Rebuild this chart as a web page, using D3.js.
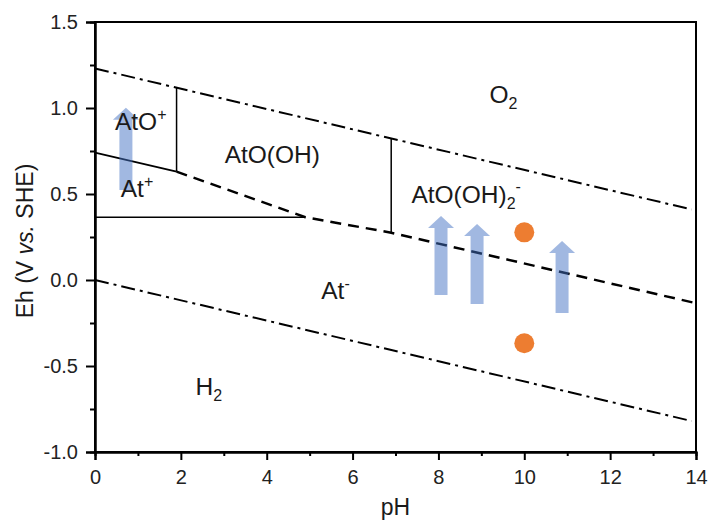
<!DOCTYPE html>
<html>
<head>
<meta charset="utf-8">
<script src="https://cdn.jsdelivr.net/npm/d3@7"></script>
<style>
  html, body { margin: 0; padding: 0; background: #fff; }
  svg { display: block; font-family: "Liberation Sans", Arial, sans-serif; }
</style>
</head>
<body>
<svg id="chart" width="708" height="521"></svg>
<script>
// ---- data ----
const phDomain = [0, 14];
const ehDomain = [-1.0, 1.5];
const phTicks = [0, 2, 4, 6, 8, 10, 12, 14];
const phMinorTicks = [1, 3, 5, 7, 9, 11, 13];
const ehTicks = [-1.0, -0.5, 0.0, 0.5, 1.0, 1.5];
const ehMinorTicks = [-0.75, -0.25, 0.25, 0.75, 1.25];

// water stability lines (dash-dot)
const o2Line = [[0, 1.23], [13.9, 0.41]];
const h2Line = [[0, 0.0], [13.9, -0.82]];
// solid boundaries
const atPlusAtOPlus = [[0, 0.74], [1.9, 0.63]];
const atOPlusAtOOH = [[1.9, 0.63], [1.9, 1.118]];
const atPlusAtMinus = [[0, 0.365], [4.9, 0.365]];
const atOOHAtOOH2 = [[6.9, 0.275], [6.9, 0.823]];
// dashed boundary
const dashedBoundary = [[1.9, 0.63], [4.9, 0.365], [6.9, 0.275], [14, -0.135]];

// arrows (pH, Eh start, Eh end)
const arrowPH = [0.72, 8.06, 8.9, 10.88];
const arrowFrom = [0.523, -0.087, -0.14, -0.192];
const arrowTo = [1.002, 0.372, 0.326, 0.227];

// measured points
const pointPH = [10, 10];
const pointEh = [0.277, -0.368];

// species labels: [main, script, type, pH(left), Eh(baseline)]
const labels = [
  ["O", "2", "sub", 9.19, 1.03],
  ["AtO(OH)", "", "", 3.02, 0.68],
  ["AtO", "+", "sup", 0.465, 0.87],
  ["At", "+", "sup", 0.6, 0.485],
  ["AtO(OH)", "2", "subsup", 7.37, 0.446],
  ["At", "-", "sup", 5.27, -0.11],
  ["H", "2", "sub", 2.34, -0.67]
];

// ---- layout ----
const svg = d3.select("#chart");
const m = { left: 95, top: 22, right: 12, bottom: 69 };
const W = 708 - m.left - m.right;   // 601
const H = 521 - m.top - m.bottom;   // 430

const x = d3.scaleLinear().domain(phDomain).range([0, W]);
const y = d3.scaleLinear().domain(ehDomain).range([H, 0]);

const g = svg.append("g").attr("transform", `translate(${m.left},${m.top})`);

const line = d3.line().x(d => x(d[0])).y(d => y(d[1]));

// boundaries
function drawLine(data, width, dash) {
  g.append("path").datum(data)
    .attr("d", line)
    .attr("fill", "none")
    .attr("stroke", "#000")
    .attr("stroke-width", width)
    .attr("stroke-dasharray", dash || null);
}
drawLine(o2Line, 2, "14,5,3,5");
drawLine(h2Line, 2, "14,5,3,5");
drawLine(atPlusAtOPlus, 1.8);
drawLine(atOPlusAtOOH, 1.5);
drawLine(atPlusAtMinus, 1.5);
drawLine(atOOHAtOOH2, 1.5);
drawLine(dashedBoundary, 2.5, "11,7");

// frame and axes
g.append("rect").attr("x", 0).attr("y", 0).attr("width", W).attr("height", H)
  .attr("fill", "none").attr("stroke", "#000").attr("stroke-width", 2);

const fmtY = d => d3.format(".1f")(d).replace("\u2212", "-");
const xAxis = g.append("g").attr("transform", `translate(0,${H})`)
  .call(d3.axisBottom(x).tickValues(phTicks).tickSize(8).tickPadding(10).tickFormat(d3.format("d")));
const xMinor = g.append("g").attr("transform", `translate(0,${H})`)
  .call(d3.axisBottom(x).tickValues(phMinorTicks).tickSize(4).tickFormat(""));
const yAxis = g.append("g")
  .call(d3.axisLeft(y).tickValues(ehTicks).tickSize(9).tickPadding(8).tickFormat(fmtY));
const yMinor = g.append("g")
  .call(d3.axisLeft(y).tickValues(ehMinorTicks).tickSize(5).tickFormat(""));

[xAxis, xMinor, yAxis, yMinor].forEach(a => {
  a.select(".domain").attr("stroke", "#000").attr("stroke-width", 2);
  a.selectAll(".tick line").attr("stroke", "#000").attr("stroke-width", 2);
  a.selectAll("text").attr("font-family", "Liberation Sans, Arial, sans-serif")
    .attr("font-size", 20).attr("fill", "#222");
});

// arrows
const shaftW = 13, headW = 26, headL = 12;
arrowPH.forEach((p, i) => {
  const cx = x(p), yb = y(arrowFrom[i]), yt = y(arrowTo[i]);
  const path = d3.path();
  path.moveTo(cx - shaftW / 2, yb);
  path.lineTo(cx - shaftW / 2, yt + headL);
  path.lineTo(cx - headW / 2, yt + headL);
  path.lineTo(cx, yt);
  path.lineTo(cx + headW / 2, yt + headL);
  path.lineTo(cx + shaftW / 2, yt + headL);
  path.lineTo(cx + shaftW / 2, yb);
  path.closePath();
  g.append("path").attr("d", path.toString())
    .attr("fill", "rgba(68,114,196,0.5)");
});

// points
g.selectAll("circle.pt").data(pointPH).join("circle")
  .attr("class", "pt")
  .attr("cx", d => x(d))
  .attr("cy", (d, i) => y(pointEh[i]))
  .attr("r", 10)
  .attr("fill", "#ED7D31");

// species labels
labels.forEach(([main, scr, type, p, e]) => {
  const t = g.append("text")
    .attr("x", x(p)).attr("y", y(e))
    .attr("font-size", 24.5).attr("fill", "#1a1a1a");
  t.append("tspan").text(main);
  if (type === "sub") {
    t.append("tspan").attr("font-size", 16).attr("dy", 6).text(scr);
  } else if (type === "sup") {
    t.append("tspan").attr("font-size", 16).attr("dy", -10).text(scr);
  } else if (type === "subsup") {
    t.append("tspan").attr("font-size", 16).attr("dy", 6).text(scr);
    t.append("tspan").attr("font-size", 16).attr("dy", -17).text("-");
  }
});

// axis titles
svg.append("text")
  .attr("x", m.left + W / 2).attr("y", 515)
  .attr("text-anchor", "middle")
  .attr("font-size", 23).attr("fill", "#1a1a1a")
  .text("pH");

const yt = svg.append("text")
  .attr("transform", `translate(33,${241}) rotate(-90)`)
  .attr("text-anchor", "middle")
  .attr("font-size", 23).attr("fill", "#1a1a1a");
yt.append("tspan").text("Eh (V ");
yt.append("tspan").attr("font-style", "italic").text("vs.");
yt.append("tspan").text(" SHE)");
</script>
</body>
</html>
